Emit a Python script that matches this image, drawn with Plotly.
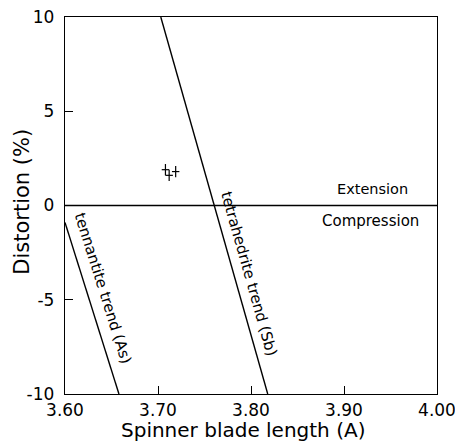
import plotly.graph_objects as go

# Data
tenn_x = [3.60, 3.658]
tenn_y = [-0.9, -10.0]
tetra_x = [3.703, 3.818]
tetra_y = [10.0, -10.0]
zero_x = [3.60, 4.00]
zero_y = [0.0, 0.0]
pts_x = [3.708, 3.712, 3.719]
pts_y = [1.9, 1.6, 1.8]
pts_ex = [0.004, 0.004, 0.004]
pts_ey = [0.3, 0.3, 0.3]

x_ticks = [3.60, 3.70, 3.80, 3.90, 4.00]
x_labels = ["3.60", "3.70", "3.80", "3.90", "4.00"]
y_ticks = [-10, -5, 0, 5, 10]
y_labels = ["-10", "-5", "0", "5", "10"]

FONT = "DejaVu Sans, Liberation Sans, Arial, sans-serif"
line_style = dict(color="black", width=1.4)

fig = go.Figure()
for xs, ys in [(tenn_x, tenn_y), (tetra_x, tetra_y), (zero_x, zero_y)]:
    fig.add_trace(go.Scatter(x=xs, y=ys, mode="lines", line=line_style,
                             showlegend=False, hoverinfo="skip"))

fig.add_trace(go.Scatter(
    x=pts_x, y=pts_y, mode="markers",
    marker=dict(size=1, color="black"),
    error_x=dict(type="data", array=pts_ex, color="black", thickness=1.2, width=0),
    error_y=dict(type="data", array=pts_ey, color="black", thickness=1.2, width=0),
    showlegend=False))

ann_font = dict(family=FONT, size=15, color="black")
fig.add_annotation(x=3.641, y=-4.36, text="tennantite trend (As)", showarrow=False,
                   textangle=72.5, font=ann_font)
fig.add_annotation(x=3.798, y=-3.62, text="tetrahedrite trend (Sb)", showarrow=False,
                   textangle=74.2, font=ann_font)
fig.add_annotation(x=3.931, y=0.89, text="Extension", showarrow=False,
                   font=dict(family=FONT, size=14.5, color="black"))
fig.add_annotation(x=3.929, y=-0.80, text="Compression", showarrow=False, font=ann_font)

title_font = dict(family=FONT, size=20, color="black")
fig.add_annotation(x=3.791, xref="x", y=0, yref="paper", yanchor="top", yshift=-22,
                   text="Spinner blade length (A)", showarrow=False, font=title_font)
fig.add_annotation(x=0, xref="paper", xanchor="center", xshift=-43, y=0.2, yref="y",
                   text="Distortion (%)", textangle=-90, showarrow=False,
                   font=dict(family=FONT, size=21, color="black"))

axis_common = dict(showgrid=False, zeroline=False, showline=True, linecolor="black",
                   linewidth=1.4, mirror=True, ticks="inside", ticklen=8,
                   tickcolor="black", tickwidth=1.2,
                   tickfont=dict(family=FONT, size=17, color="black"),
                   ticklabeloverflow="allow", automargin=False)

fig.update_xaxes(range=[3.60, 4.00], tickvals=x_ticks, ticktext=x_labels,
                 ticklabelstandoff=0, **axis_common)
fig.update_yaxes(range=[-10, 10], tickvals=y_ticks, ticktext=y_labels,
                 ticklabelstandoff=6, **axis_common)

fig.update_layout(width=455, height=445, margin=dict(l=65, r=18, t=17, b=51, autoexpand=False),
                  paper_bgcolor="white", plot_bgcolor="white")

fig.write_html("out.html")
